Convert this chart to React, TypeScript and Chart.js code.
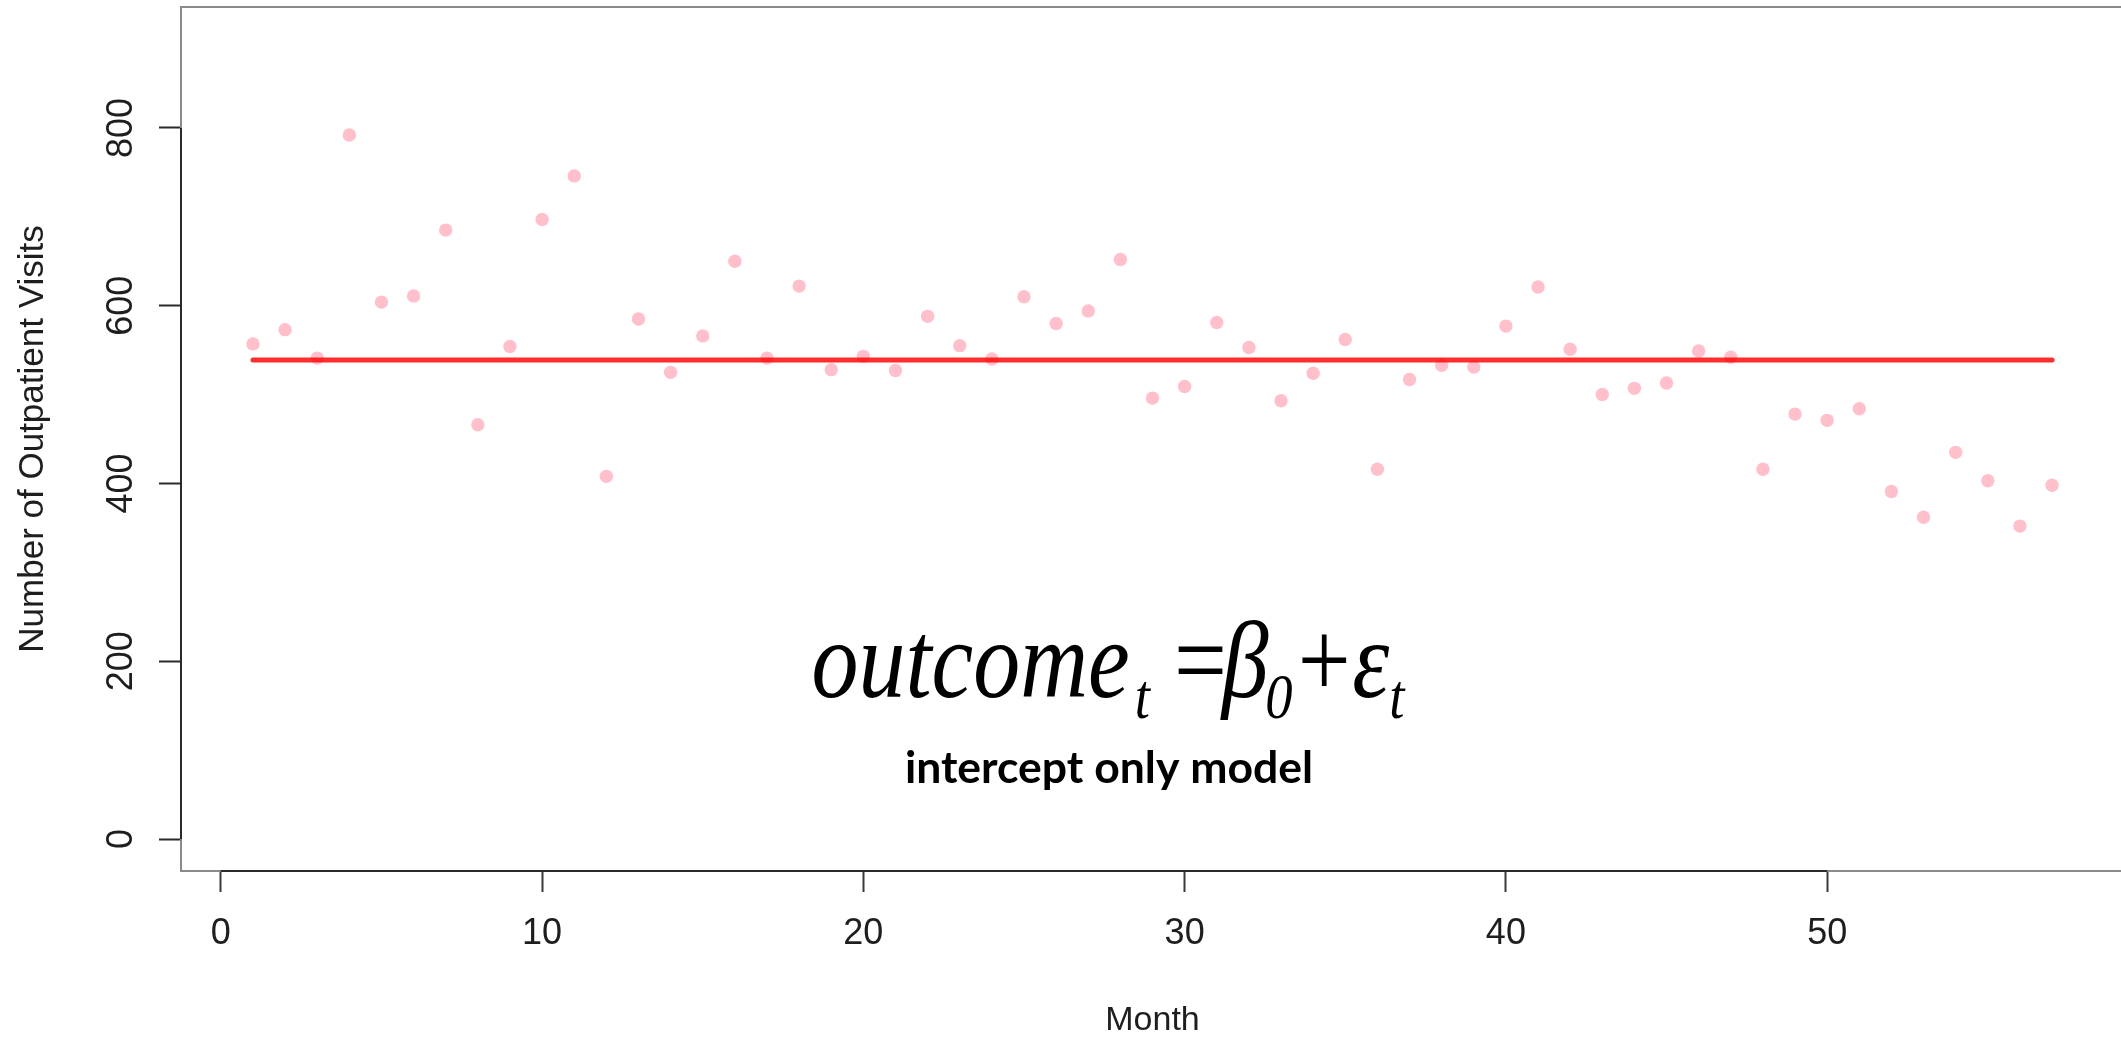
import React, { useEffect, useRef } from "react";
import { Chart, registerables } from "chart.js";

Chart.register(...registerables);

// ---- data ----
const months: number[] = [
  1, 2, 3, 4, 5, 6, 7, 8, 9, 10, 11, 12, 13, 14, 15, 16, 17, 18, 19, 20,
  21, 22, 23, 24, 25, 26, 27, 28, 29, 30, 31, 32, 33, 34, 35, 36, 37, 38, 39, 40,
  41, 42, 43, 44, 45, 46, 47, 48, 49, 50, 51, 52, 53, 54, 55, 56, 57,
];
const visits: number[] = [
  557, 573, 541, 792, 604, 611, 685, 466, 554, 697,
  746, 408, 585, 525, 566, 650, 541, 622, 528, 543,
  527, 588, 555, 540, 610, 580, 594, 652, 496, 509,
  581, 553, 493, 524, 562, 416, 517, 533, 531, 577,
  621, 551, 500, 507, 513, 549, 542, 416, 478, 471,
  484, 391, 362, 435, 403, 352, 398,
];
const interceptValue = 539;
const xTickValues: number[] = [0, 10, 20, 30, 40, 50];
const yTickValues: number[] = [0, 200, 400, 600, 800];
const xRange: number[] = [-1.24, 59.24];
const yRange: number[] = [-36, 936];
const xTitle = "Month";
const yTitle = "Number of Outpatient Visits";
const subtitle = "intercept only model";

const SANS = "'Liberation Sans', Arial, Helvetica, sans-serif";
const SERIF = "'Liberation Serif', 'Times New Roman', serif";

const CANVAS_W = 2140;
const CANVAS_H = 1041;

const decorPlugin = {
  id: "decor",
  beforeDatasetsDraw(chart: any) {
    const { ctx, chartArea: a, scales } = chart;
    const xs = scales.x;
    const ys = scales.y;
    ctx.save();
    // plot box
    ctx.strokeStyle = "#8a8a8a";
    ctx.lineWidth = 2;
    ctx.strokeRect(a.left, a.top, a.right - a.left, a.bottom - a.top);
    // axis lines (R style: first to last tick)
    ctx.strokeStyle = "#2a2a2a";
    ctx.lineWidth = 2;
    ctx.beginPath();
    ctx.moveTo(xs.getPixelForValue(xTickValues[0]), a.bottom);
    ctx.lineTo(xs.getPixelForValue(xTickValues[xTickValues.length - 1]), a.bottom);
    ctx.moveTo(a.left, ys.getPixelForValue(yTickValues[0]));
    ctx.lineTo(a.left, ys.getPixelForValue(yTickValues[yTickValues.length - 1]));
    ctx.stroke();
    ctx.restore();
  },
  afterDraw(chart: any) {
    const { ctx, scales } = chart;
    const ys = scales.y;
    ctx.save();
    // rotated y tick labels
    ctx.fillStyle = "#1e1e1e";
    ctx.font = `36px ${SANS}`;
    ctx.textAlign = "center";
    ctx.textBaseline = "alphabetic";
    for (const v of yTickValues) {
      const py = ys.getPixelForValue(v);
      ctx.save();
      ctx.translate(132, py);
      ctx.rotate(-Math.PI / 2);
      ctx.fillText(String(v), 0, 0);
      ctx.restore();
    }

    // formula: outcome_t = beta_0 + epsilon_t
    const mainSize = 110;
    const subSize = 64;
    const subDy = 21;
    const sx = 0.854;
    const parts: { t: string; size: number; italic: boolean; dy: number; gap: number }[] = [
      { t: "outcome", size: mainSize, italic: true, dy: 0, gap: 0 },
      { t: "t", size: subSize, italic: true, dy: subDy, gap: 6 },
      { t: "=", size: mainSize, italic: false, dy: 0, gap: 28 },
      { t: "\u03B2", size: mainSize, italic: true, dy: 0, gap: -6 },
      { t: "0", size: subSize, italic: true, dy: subDy, gap: -4 },
      { t: "+", size: mainSize, italic: false, dy: 0, gap: 6 },
      { t: "\u03B5", size: mainSize, italic: true, dy: 0, gap: 2 },
      { t: "t", size: subSize, italic: true, dy: subDy, gap: 0 },
    ];
    const fontOf = (p: any) => `${p.italic ? "italic " : ""}${p.size}px ${SERIF}`;
    let total = 0;
    const widths: number[] = [];
    for (const p of parts) {
      ctx.font = fontOf(p);
      const w = ctx.measureText(p.t).width;
      widths.push(w);
      total += p.gap + w;
    }
    const cx = 1108;
    const baseY = 697;
    ctx.save();
    ctx.translate(cx, 0);
    ctx.scale(sx, 1);
    let x = -total / 2;
    ctx.fillStyle = "#000";
    ctx.textAlign = "left";
    ctx.textBaseline = "alphabetic";
    parts.forEach((p, i) => {
      x += p.gap;
      ctx.font = fontOf(p);
      ctx.fillText(p.t, x, baseY + p.dy);
      x += widths[i];
    });
    ctx.restore();

    // subtitle
    ctx.fillStyle = "#000";
    ctx.font = `bold 40px Lato, 'Open Sans', sans-serif`;
    const w0 = ctx.measureText(subtitle).width;
    const size = (40 * 408) / w0;
    ctx.font = `bold ${size.toFixed(1)}px Lato, 'Open Sans', sans-serif`;
    ctx.textAlign = "center";
    ctx.textBaseline = "alphabetic";
    ctx.fillText(subtitle, 1109, 783);
    ctx.restore();
  },
};

export default function App() {
  const canvasRef = useRef<HTMLCanvasElement | null>(null);

  useEffect(() => {
    document.body.style.margin = "0";
    const canvas = canvasRef.current;
    if (!canvas) return;
    const points = months.map((m, i) => ({ x: m, y: visits[i] }));
    const line = [
      { x: months[0], y: interceptValue },
      { x: months[months.length - 1], y: interceptValue },
    ];
    const chart = new Chart(canvas, {
      type: "scatter",
      data: {
        datasets: [
          {
            type: "line",
            label: "intercept",
            data: line,
            borderColor: "rgba(255, 0, 0, 0.82)",
            borderWidth: 5,
            borderCapStyle: "round",
            pointRadius: 0,
            fill: false,
          } as any,
          {
            type: "scatter",
            label: "visits",
            data: points,
            backgroundColor: "rgb(255, 192, 203)",
            borderWidth: 0,
            pointRadius: 6.7,
            pointHoverRadius: 6.7,
          } as any,
        ],
      },
      options: {
        animation: false,
        responsive: false,
        maintainAspectRatio: false,
        devicePixelRatio: 1,
        layout: { padding: { left: 0, top: 7, right: CANVAS_W - 2124, bottom: 0 } },
        plugins: {
          legend: { display: false },
          tooltip: { enabled: false },
        },
        scales: {
          x: {
            type: "linear",
            position: "bottom",
            min: xRange[0],
            max: xRange[1],
            afterBuildTicks: (axis: any) => {
              axis.ticks = xTickValues.map((v) => ({ value: v }));
            },
            afterFit: (s: any) => {
              s.height = 170;
            },
            grid: {
              display: true,
              drawOnChartArea: false,
              drawTicks: true,
              tickLength: 21,
              tickColor: "#3a3a3a",
              tickWidth: 2,
            },
            border: { display: false },
            ticks: {
              autoSkip: false,
              maxRotation: 0,
              minRotation: 0,
              padding: 20,
              color: "#1e1e1e",
              font: { family: SANS, size: 36 },
              callback: (v: any) => String(v),
            },
            title: {
              display: true,
              text: xTitle,
              color: "#1e1e1e",
              font: { family: SANS, size: 34 },
              padding: { top: 0, bottom: 0 },
            },
          },
          y: {
            type: "linear",
            position: "left",
            min: yRange[0],
            max: yRange[1],
            afterBuildTicks: (axis: any) => {
              axis.ticks = yTickValues.map((v) => ({ value: v }));
            },
            afterFit: (s: any) => {
              s.width = 181;
            },
            grid: {
              display: true,
              drawOnChartArea: false,
              drawTicks: true,
              tickLength: 22,
              tickColor: "#2a2a2a",
              tickWidth: 2,
            },
            border: { display: false },
            ticks: { display: false },
            title: {
              display: true,
              text: yTitle,
              color: "#1e1e1e",
              font: { family: SANS, size: 35 },
              padding: { top: 12, bottom: 0 },
            },
          },
        },
      },
      plugins: [decorPlugin],
    });
    return () => chart.destroy();
  }, []);

  return (
    <div style={{ width: 2121, height: 1041, overflow: "hidden", background: "#fff" }}>
      <canvas
        ref={canvasRef}
        width={CANVAS_W}
        height={CANVAS_H}
        style={{ display: "block", width: CANVAS_W, height: CANVAS_H }}
      />
    </div>
  );
}
